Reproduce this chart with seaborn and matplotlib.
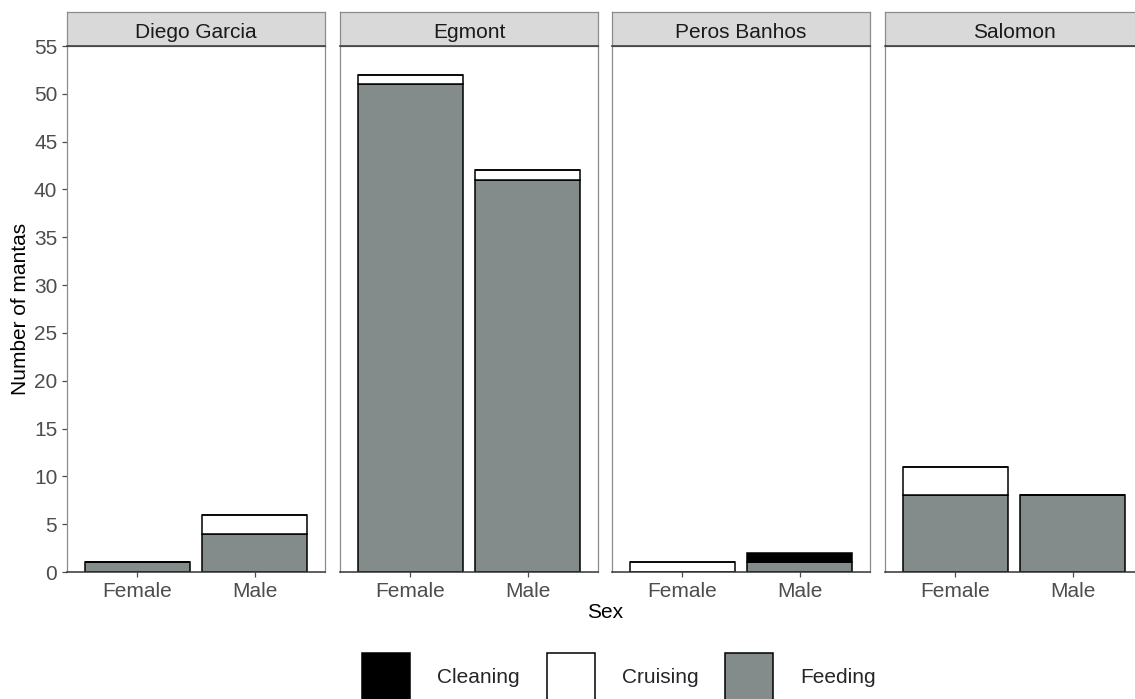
import matplotlib
matplotlib.use("Agg")
import matplotlib.pyplot as plt
from matplotlib.patches import Patch
import pandas as pd
import seaborn as sns

# Manta observations by site, sex and behaviour
sites = ["Diego Garcia", "Egmont", "Peros Banhos", "Salomon"]
sexes = ["Female", "Male"]
behaviours = ["Cleaning", "Cruising", "Feeding"]
# counts listed as [Female, Male] for each site
cleaning = [[0, 0], [0, 0], [0, 1], [0, 0]]
cruising = [[0, 2], [1, 1], [1, 0], [3, 0]]
feeding = [[1, 4], [51, 41], [0, 1], [8, 8]]
behaviour_colors = ["#000000", "#FFFFFF", "#838B8B"]
y_ticks = list(range(0, 56, 5))

rows = []
for si, site in enumerate(sites):
    for xi, sex in enumerate(sexes):
        for beh, counts in zip(behaviours, [cleaning, cruising, feeding]):
            rows.append({"Site": site, "Sex": sex, "Behaviour": beh,
                         "Count": counts[si][xi]})
df = pd.DataFrame(rows)

sns.set_theme(style="white")
plt.rcParams["font.family"] = ["Liberation Sans", "DejaVu Sans"]

W, H = 1135, 699
fig = plt.figure(figsize=(W / 100, H / 100), dpi=100)

panel_lefts = [67, 340, 612, 885]
panel_w = 258
panel_top, panel_bottom = 46, 572
strip_top = 12

border_col = "#8C8C8C"
axis_col = "#333333"
tick_col = "#4D4D4D"
fs = 15

for i, site in enumerate(sites):
    left = panel_lefts[i]
    ax = fig.add_axes([left / W, 1 - panel_bottom / H, panel_w / W,
                       (panel_bottom - panel_top) / H])
    sub = df[df["Site"] == site]
    sns.histplot(data=sub, x="Sex", hue="Behaviour", weights="Count",
                 hue_order=behaviours, palette=behaviour_colors,
                 multiple="stack", discrete=True, shrink=0.9,
                 edgecolor="black", linewidth=1.1, alpha=1,
                 legend=False, ax=ax)
    ax.set_xlim(-0.6, 1.6)
    ax.set_ylim(0, 55)
    ax.set_yticks(y_ticks)
    ax.set_xlabel("")
    ax.set_ylabel("")
    ax.set_facecolor("white")
    ax.grid(False)
    for side in ["left", "right", "top"]:
        ax.spines[side].set_color(border_col)
        ax.spines[side].set_linewidth(0.9)
    ax.spines["bottom"].set_color(axis_col)
    ax.spines["bottom"].set_linewidth(1.1)
    ax.tick_params(axis="both", which="both", direction="out", length=3.5,
                   width=0.9, color=tick_col, labelcolor=tick_col,
                   labelsize=fs, pad=3.5)
    ax.tick_params(axis="x", bottom=True)
    if i == 0:
        ax.tick_params(axis="y", left=True, labelleft=True)
    else:
        ax.tick_params(axis="y", left=False, labelleft=False)

    # facet strip
    sax = fig.add_axes([left / W, 1 - panel_top / H, panel_w / W,
                        (panel_top - strip_top) / H])
    sax.set_facecolor("#D9D9D9")
    sax.set_xticks([])
    sax.set_yticks([])
    for side in ["left", "right", "top"]:
        sax.spines[side].set_color(border_col)
        sax.spines[side].set_linewidth(0.9)
    sax.spines["bottom"].set_color(axis_col)
    sax.spines["bottom"].set_linewidth(1.1)
    sax.text(0.5, 0.45, site, ha="center", va="center_baseline", fontsize=fs,
             color="#1A1A1A", transform=sax.transAxes)

fig.text(605 / W, 1 - 613 / H, "Sex", ha="center", va="center",
         fontsize=fs, color="black")
fig.text(20 / W, 1 - 309 / H, "Number of mantas", ha="center", va="center",
         rotation=90, fontsize=fs, color="black")

handles = [Patch(facecolor=c, edgecolor="black", linewidth=1.1)
           for c in behaviour_colors]
fig.legend(handles, behaviours, loc="upper left",
           bbox_to_anchor=(362 / W, 1 - 653 / H), ncol=3, frameon=False,
           fontsize=fs, handlelength=2.3, handleheight=3.2,
           handletextpad=1.3, columnspacing=1.3, borderpad=0,
           borderaxespad=0)

fig.savefig("out.png", dpi=100)
